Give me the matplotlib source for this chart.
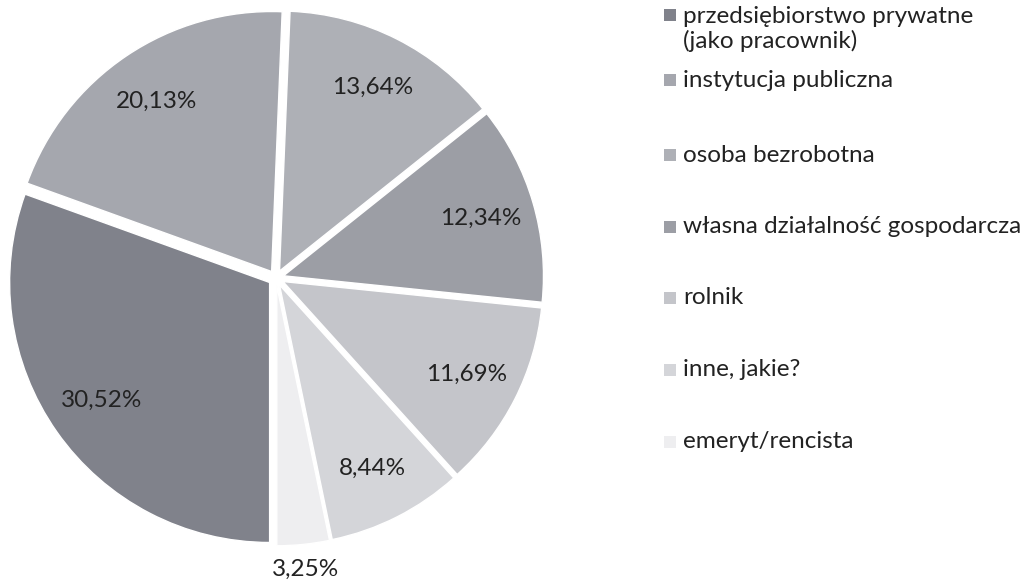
import numpy as np
import matplotlib
matplotlib.use("Agg")
import matplotlib.pyplot as plt
from matplotlib.patches import Rectangle

plt.rcParams['font.family'] = ['Lato', 'DejaVu Sans']

categories = ["przedsiębiorstwo prywatne\n(jako pracownik)",
              "instytucja publiczna",
              "osoba bezrobotna",
              "własna działalność gospodarcza",
              "rolnik",
              "inne, jakie?",
              "emeryt/rencista"]
values = [30.52, 20.13, 13.64, 12.34, 11.69, 8.44, 3.25]
colors = ["#80828b", "#a5a7ae", "#aeb0b6", "#9c9ea5", "#c4c5ca", "#d4d5d9", "#eeeef0"]

W, H = 1030, 580
fig = plt.figure(figsize=(W / 100, H / 100), dpi=100)

# pie geometry (pixels)
cx, cy, r_px = 276, 278, 260
L = 1.2
box = 2 * L * r_px
ax = fig.add_axes([(cx - L * r_px) / W, (H - cy - L * r_px) / H, box / W, box / H])

wedges, _ = ax.pie(values, colors=colors, startangle=-90, counterclock=False,
                   explode=[0.03] * len(values),
                   wedgeprops=dict(edgecolor="white", linewidth=1.0))
ax.set_xlim(-L, L)
ax.set_ylim(-L, L)
ax.set_aspect('equal')
ax.axis('off')

for w, v in zip(wedges, values):
    ang = np.deg2rad((w.theta1 + w.theta2) / 2)
    d = 1.095 if v < 5 else 0.79
    x0, y0 = w.center
    ax.text(x0 + d * np.cos(ang), y0 + d * np.sin(ang),
            f"{v:.2f}%".replace('.', ','), ha='center', va='center',
            fontsize=17.5, color="#222222", clip_on=False)

# legend (manual layout)
leg_y = [15, 80, 155, 227, 298, 370, 442]
line_h = 28
mk = 12
for lab, col, y in zip(categories, colors, leg_y):
    n = lab.count('\n')
    fig.patches.append(Rectangle((664 / W, (H - y - mk / 2) / H), mk / W, mk / H,
                                 transform=fig.transFigure, facecolor=col,
                                 edgecolor='none'))
    fig.text(683 / W, (H - (y + n * line_h / 2)) / H, lab, ha='left', va='center',
             fontsize=17.5, color="#222222", linespacing=1.15)

fig.savefig("out.png", dpi=100)
